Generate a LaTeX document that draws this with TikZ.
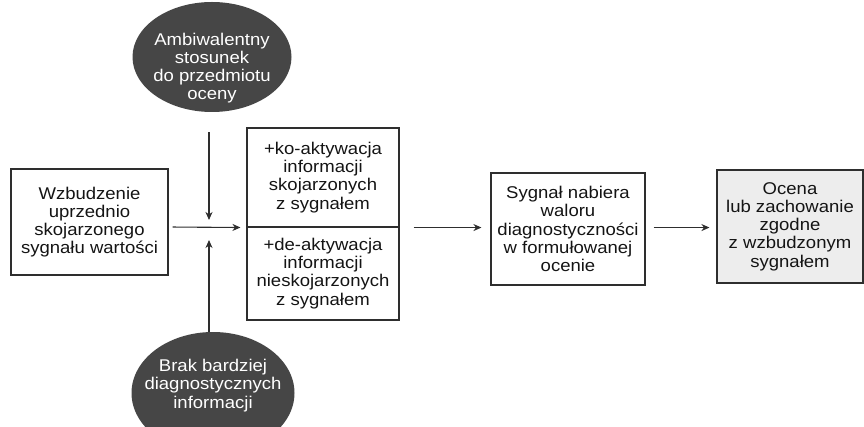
\documentclass[tikz,border=0pt]{standalone}
\usepackage{fontspec}
\setmainfont{Liberation Sans}[FakeStretch=1.09]
\usepackage{tikz}
\usetikzlibrary{shapes.geometric,arrows.meta}

\definecolor{ciemny}{HTML}{464646}
\definecolor{linia}{HTML}{2E2E2E}
\definecolor{jasny}{HTML}{EDEDED}

\tikzset{
  blok/.style={draw=linia, line width=1.1pt, inner sep=0pt, align=center,
    text=black!92, font=\fontsize{17}{18.2}\selectfont},
  owal/.style={ellipse, fill=ciemny, inner sep=0pt},
  napis/.style={align=center, text=white, inner sep=0pt,
    font=\fontsize{17}{18.2}\selectfont},
  strz/.style={draw=linia, line width=1.1pt,
    -{Stealth[length=8pt,width=7pt,inset=2.5pt]}}
}

\begin{document}
\begin{tikzpicture}[x=1pt,y=-1pt]

\clip (0,0) rectangle (864,427);

\coordinate (J) at (209,227);

\node[owal, minimum width=159, minimum height=110] (A) at (212,57) {};
\node[napis] (At) at (212,68) {Ambiwalentny\\stosunek\\do przedmiotu\\oceny};

\node[owal, minimum width=163, minimum height=122] (B) at (213,393) {};
\node[napis] (Bt) at (213,385.5) {Brak bardziej\\diagnostycznych\\informacji};

\node[blok, minimum width=157, minimum height=106] (W) at (89.5,222)
  {Wzbudzenie\\uprzednio\\skojarzonego\\sygnału wartości};
\node[blok, minimum width=152, minimum height=99] (K) at (323,177.5)
  {+ko-aktywacja\\informacji\\skojarzonych\\z sygnałem};
\node[blok, minimum width=152, minimum height=93] (D) at (323,273.5)
  {+de-aktywacja\\informacji\\nieskojarzonych\\z sygnałem};
\node[blok, minimum width=154, minimum height=112] (S) at (568,229)
  {Sygnał nabiera\\waloru\\diagnostyczności\\w formułowanej\\ocenie};
\node[blok, fill=jasny, minimum width=146, minimum height=113] (O) at (790,226.5)
  {Ocena\\lub zachowanie\\zgodne\\z wzbudzonym\\sygnałem};

\draw[strz, shorten <=4pt, shorten >=6pt] (W.east |- J) -- (K.south west);
\draw[strz, shorten <=20pt, shorten >=7pt] (A.south -| J) -- (J);
\draw[strz, shorten >=13pt] (B.north -| J) -- (J);
\draw[strz, shorten <=14pt, shorten >=9pt] (K.south east) -- (S.west |- K.south east);
\draw[strz, shorten <=8pt, shorten >=7pt] (S.east |- K.south east) -- (O.west |- K.south east);

\end{tikzpicture}
\end{document}
